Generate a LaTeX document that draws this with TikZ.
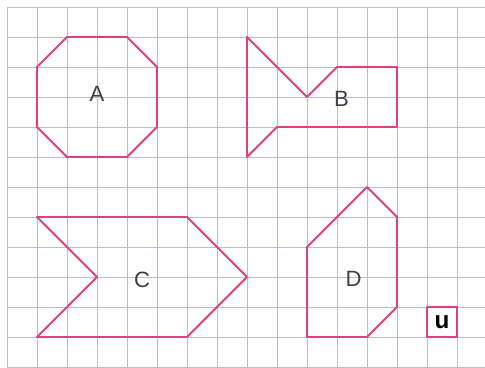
\documentclass[tikz,border=0pt]{standalone}
\usepackage{fontspec}
\setmainfont{Liberation Sans}
\definecolor{rosa}{RGB}{226,62,130}
\definecolor{grade}{RGB}{192,184,218}
\tikzset{
  figura/.style={draw=rosa, line width=1.8pt, line join=round},
  rotulo/.style={font=\fontsize{21}{25}\selectfont, text=black!75},
}
\begin{document}
\begin{tikzpicture}[x=1cm, y=-1cm]
        \useasboundingbox (-0.233,-0.233) rectangle (15.933,12.033);
        \fill[white] (-0.233,-0.233) rectangle (15.933,12.033);
        \draw[grade, line width=0.7pt] (0,0) grid (15.933,12.033);
        % figura A
        \draw[figura] (2,1) -- (4,1) -- (5,2) -- (5,4) -- (4,5) -- (2,5) -- (1,4) -- (1,2) -- cycle;
        \node at (3,2.9) [rotulo] (a) {A};
        % figura B
        \draw[figura] (8,1) -- (10,3) -- (11,2) -- (13,2) -- (13,4) -- (9,4) -- (8,5) -- cycle;
        \node at (11.15,3.05) [rotulo] (b) {B};
        % figura C
        \draw[figura] (1,7) -- (6,7) -- (8,9) -- (6,11) -- (1,11) -- (3,9) -- cycle;
        \node at (4.5,9.1) [rotulo] (c) {C};
        % figura D
        \draw[figura] (12,6) -- (13,7) -- (13,10) -- (12,11) -- (10,11) -- (10,8) -- cycle;
        \node at (11.55,9.05) [rotulo] (d) {D};
        % unidade
        \node at (14.5,10.5) [figura, minimum size=1cm, inner sep=0pt, font=\fontsize{23}{27}\selectfont\bfseries] (u) {u};
      \end{tikzpicture}
\end{document}
